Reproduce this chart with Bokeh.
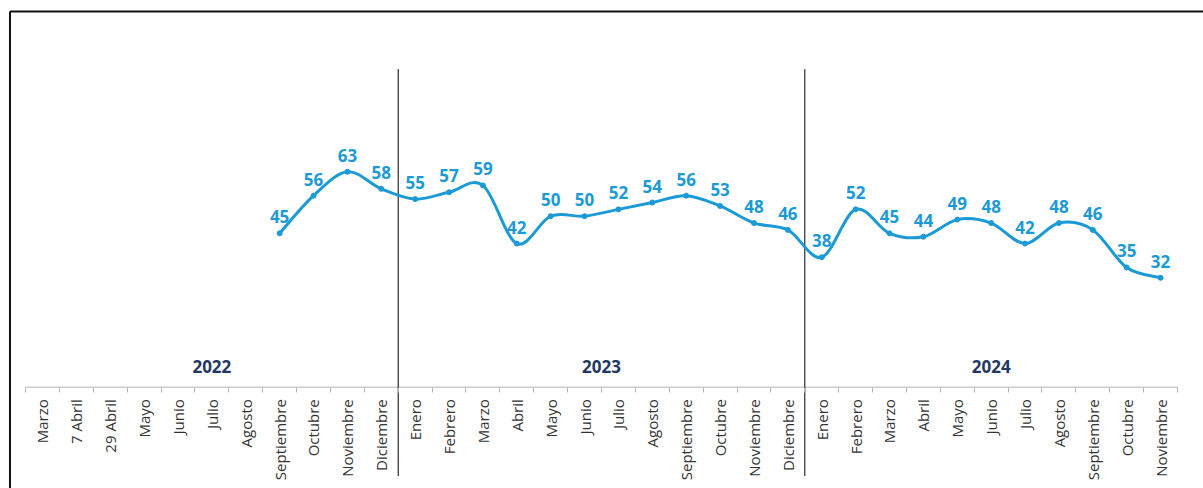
import math
from bokeh.plotting import figure
from bokeh.models import Range1d, FixedTicker
from bokeh.embed import file_html
from bokeh.resources import INLINE
from bokeh.core.properties import value

# ---- data ----
years = ["2022", "2023", "2024"]
months_2022 = ["Marzo", "7 Abril", "29 Abril", "Mayo", "Junio", "Julio", "Agosto",
               "Septiembre", "Octubre", "Noviembre", "Diciembre"]
months_2023 = ["Enero", "Febrero", "Marzo", "Abril", "Mayo", "Junio", "Julio", "Agosto",
               "Septiembre", "Octubre", "Noviembre", "Diciembre"]
months_2024 = ["Enero", "Febrero", "Marzo", "Abril", "Mayo", "Junio", "Julio", "Agosto",
               "Septiembre", "Octubre", "Noviembre"]
values_2022 = [None, None, None, None, None, None, None, 45, 56, 63, 58]
values_2023 = [55, 57, 59, 42, 50, 50, 52, 54, 56, 53, 48, 46]
values_2024 = [38, 52, 45, 44, 49, 48, 42, 48, 46, 35, 32]

BLUE = "#1b9ad6"
NAVY = "#1f3864"
FONT = "Open Sans"

groups = [months_2022, months_2023, months_2024]
labels = months_2022 + months_2023 + months_2024
vals = values_2022 + values_2023 + values_2024
n = len(labels)
centers = [i + 0.5 for i in range(n)]
bounds = [float(i) for i in range(n + 1)]

xs = [c for c, v in zip(centers, vals) if v is not None]
ys = [v for v in vals if v is not None]

# smooth (Catmull-Rom style) bezier segments through the data points
x0, y0, x1, y1, cx0, cy0, cx1, cy1 = [], [], [], [], [], [], [], []
m = len(xs)
for k in range(m - 1):
    a = max(k - 1, 0)
    d = min(k + 2, m - 1)
    x0.append(xs[k]); y0.append(ys[k])
    x1.append(xs[k + 1]); y1.append(ys[k + 1])
    cx0.append(xs[k] + (xs[k + 1] - xs[a]) / 6.0)
    cy0.append(ys[k] + (ys[k + 1] - ys[a]) / 6.0)
    cx1.append(xs[k + 1] - (xs[d] - xs[k]) / 6.0)
    cy1.append(ys[k + 1] - (ys[d] - ys[k]) / 6.0)

X0, X1 = -0.738, 34.767
Y0, Y1 = -29.62, 113.07
p = figure(width=1203, height=488,
           x_range=Range1d(X0, X1), y_range=Range1d(Y0, Y1),
           output_backend="svg", toolbar_location=None, y_axis_location=None,
           min_border=0, outline_line_color=None)
p.grid.visible = False
p.background_fill_color = "white"

ax = p.xaxis[0]
ax.fixed_location = 0
ax.ticker = FixedTicker(ticks=centers, minor_ticks=bounds)
ax.major_label_overrides = {c: lab for c, lab in zip(centers, labels)}
ax.major_tick_line_color = None
ax.major_tick_out = 0
ax.major_tick_in = 0
ax.minor_tick_line_color = "#b4b4b4"
ax.minor_tick_out = 5
ax.minor_tick_in = 0
ax.axis_line_color = None
ax.major_label_orientation = math.pi / 2
ax.major_label_standoff = 7
ax.major_label_text_font = FONT
ax.major_label_text_font_size = "15px"
ax.major_label_text_color = "#333333"

# axis baseline across the categories
p.segment(x0=[bounds[0]], y0=[0], x1=[bounds[-1]], y1=[0], line_color="#b4b4b4", line_width=1)

# year separators
seps = [float(len(months_2022)), float(len(months_2022) + len(months_2023))]
p.segment(x0=seps, y0=[-26] * 2, x1=seps, y1=[93] * 2, line_color="#000000", line_width=1)

# year labels
starts = [0, len(months_2022), len(months_2022) + len(months_2023)]
year_x = [s + len(g) / 2.0 for s, g in zip(starts, groups)]
p.text(x=year_x, y=[6] * 3, text=years, text_align="center", text_baseline="middle",
       text_font=value(FONT), text_font_style="bold", text_font_size="17px", text_color=NAVY)

# smooth line + points
p.bezier(x0=x0, y0=y0, x1=x1, y1=y1, cx0=cx0, cy0=cy0, cx1=cx1, cy1=cy1,
         line_color=BLUE, line_width=3)
p.scatter(xs, ys, size=5, color=BLUE)

# data labels
p.text(x=xs, y=ys, text=[str(v) for v in ys], text_align="center",
       text_baseline="bottom", y_offset=-10,
       text_font=value(FONT), text_font_style="bold", text_font_size="17px", text_color=BLUE)

# frame borders (top and left)
BT, BL = 109.85, -0.458
p.segment(x0=[BL, BL], y0=[BT, BT], x1=[X1, BL], y1=[BT, Y0],
          line_color="#111111", line_width=2)

open("out.html", "w").write(file_html(p, INLINE))
